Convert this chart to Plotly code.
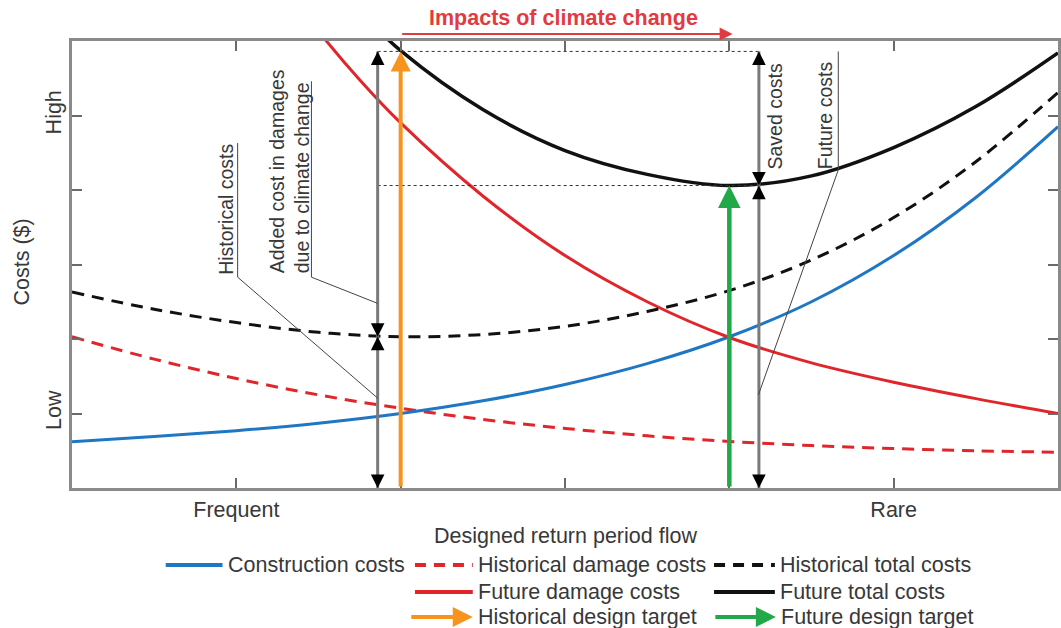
import plotly.graph_objects as go

# Design return period on an index scale (0 = most frequent, 6 = rarest)
period = [0, 0.5, 1, 1.5, 2, 2.5, 3, 3.5, 4, 4.5, 5, 5.5, 6]
construction = [0.62, 0.69, 0.77, 0.87, 1.00, 1.17, 1.39, 1.67, 2.03, 2.50, 3.12, 3.90, 4.85]
hist_damage = [2.03, 1.73, 1.47, 1.25, 1.07, 0.92, 0.80, 0.70, 0.625, 0.57, 0.53, 0.50, 0.48]
hist_total = [2.63, 2.40, 2.22, 2.09, 2.03, 2.06, 2.17, 2.37, 2.65, 3.06, 3.63, 4.38, 5.31]

period_future = [1.25, 1.5, 1.75, 2, 2.5, 3, 3.5, 4, 4.5, 5, 5.5, 6]
future_damage = [6.85, 6.13, 5.48, 4.90, 3.92, 3.12, 2.50, 2.02, 1.68, 1.42, 1.20, 1.00]
future_total = [7.70, 7.00, 6.40, 5.87, 5.08, 4.53, 4.21, 4.06, 4.19, 4.57, 5.12, 5.84]

x_ticks = [1, 2, 3, 4, 5]
x_tick_text = ["Frequent", "", "", "", "Rare"]
y_ticks = [1, 2, 3, 4, 5]
y_tick_text = ["Low", "", "", "", "High"]

# Design targets and the cost levels they reach
hist_design = 2.0
future_design = 4.0
hist_min_cost = 2.03       # historical total at historical design
hist_design_cost = 5.86    # future total at historical design
future_design_cost = 4.06  # future total at future design
bracket_hist = 1.86
bracket_future = 4.18

BLUE = "#1f77c4"
RED = "#e0262b"
ORANGE = "#f7941d"
GREEN = "#20a849"
BLACK = "#111111"
GRAY = "#7a7a7a"
TEXT = "#383838"
FONT = "Liberation Sans, Arial, sans-serif"
FS = 21.5          # axis / legend text size
FS_CALLOUT = 19.5  # rotated callout text size

fig = go.Figure()
fig.add_trace(go.Scatter(x=period, y=hist_damage, mode="lines",
                         line=dict(color=RED, width=3, dash="12px,8px", shape="spline")))
fig.add_trace(go.Scatter(x=period, y=construction, mode="lines",
                         line=dict(color=BLUE, width=3, shape="spline")))
fig.add_trace(go.Scatter(x=period_future, y=future_damage, mode="lines",
                         line=dict(color=RED, width=3, shape="spline")))
fig.add_trace(go.Scatter(x=period, y=hist_total, mode="lines",
                         line=dict(color=BLACK, width=3, dash="12px,8px", shape="spline")))
fig.add_trace(go.Scatter(x=period_future, y=future_total, mode="lines",
                         line=dict(color=BLACK, width=3.5, shape="spline")))

shapes = []
annotations = []

# dotted reference levels
for lvl in (hist_design_cost, future_design_cost):
    shapes.append(dict(type="line", xref="x", yref="y", x0=bracket_hist, x1=bracket_future,
                       y0=lvl, y1=lvl, line=dict(color="#333", width=1, dash="dot"), layer="above"))

# gray bracket shafts with black heads at both ends
for xb, segs in ((bracket_hist, [(0, hist_min_cost), (hist_min_cost, hist_design_cost)]),
                 (bracket_future, [(0, future_design_cost), (future_design_cost, hist_design_cost)])):
    for y0, y1 in segs:
        shapes.append(dict(type="line", xref="x", yref="y", x0=xb, x1=xb, y0=y0, y1=y1,
                           line=dict(color=GRAY, width=3), layer="above"))
        annotations.append(dict(x=xb, y=y1, xref="x", yref="y", ax=0, ay=14, text="",
                                showarrow=True, arrowhead=2, arrowsize=1.7, arrowwidth=1.6,
                                arrowcolor="black"))
        annotations.append(dict(x=xb, y=y0, xref="x", yref="y", ax=0, ay=-14, text="",
                                showarrow=True, arrowhead=2, arrowsize=1.7, arrowwidth=1.6,
                                arrowcolor="black"))

# design target arrows
annotations.append(dict(x=hist_design, y=hist_design_cost, xref="x", yref="y",
                        ax=hist_design, ay=0, axref="x", ayref="y", text="", showarrow=True,
                        arrowhead=2, arrowsize=1.0, arrowwidth=4, arrowcolor=ORANGE))
annotations.append(dict(x=future_design, y=future_design_cost, xref="x", yref="y",
                        ax=future_design, ay=0, axref="x", ayref="y", text="", showarrow=True,
                        arrowhead=2, arrowsize=1.0, arrowwidth=4.5, arrowcolor=GREEN))

# leader lines for callouts
leaders = [
    [(1.008, 4.63), (1.008, 2.83), (1.858, 1.21)],
    [(1.457, 5.46), (1.457, 2.83), (1.858, 2.48)],
    [(4.663, 5.86), (4.663, 4.27), (4.177, 1.25)],
]
for pts in leaders:
    path = "M {} {}".format(*pts[0]) + "".join(" L {} {}".format(*p) for p in pts[1:])
    shapes.append(dict(type="path", xref="x", yref="y", path=path,
                       line=dict(color="#444", width=1), layer="above"))

callouts = [
    (0.94, 3.74, "Historical costs"),
    (1.32, 4.25, "Added cost in damages<br>due to climate change"),
    (4.275, 4.98, "Saved costs"),
    (4.58, 5.0, "Future costs"),
]
for cx, cy, txt in callouts:
    annotations.append(dict(x=cx, y=cy, xref="x", yref="y", text=txt, showarrow=False,
                            textangle=-90, align="left",
                            font=dict(size=FS_CALLOUT, color=TEXT, family=FONT)))

# impacts arrow and heading
annotations.append(dict(x=4.02, y=1.0157, xref="x", yref="paper", ax=hist_design, ay=0,
                        axref="x", text="", showarrow=True, arrowhead=2, arrowsize=1.3,
                        arrowwidth=2, arrowcolor="#e23b3f"))
annotations.append(dict(x=2.99, y=1.0515, xref="x", yref="paper", yanchor="middle",
                        text="<b>Impacts of climate change</b>", showarrow=False,
                        font=dict(size=FS, color="#e23b3f", family=FONT)))

# axis titles
annotations.append(dict(x=0.5, y=-0.108, xref="paper", yref="paper", xanchor="center",
                        yanchor="middle", text="Designed return period flow", showarrow=False,
                        font=dict(size=FS, color=TEXT, family=FONT)))
annotations.append(dict(x=-0.0505, y=0.505, xref="paper", yref="paper", xanchor="center",
                        yanchor="middle", text="Costs ($)", showarrow=False, textangle=-90,
                        font=dict(size=FS, color=TEXT, family=FONT)))


# legend drawn below the axes (pixel layout converted to paper units)
def px_x(p):
    return (p - 72) / 989.0


def px_y(p):
    return (488 - p) / 447.0


legend_items = [
    (166, 223, 565, BLUE, "solid", "Construction costs"),
    (416, 474, 565, RED, "11px,8px", "Historical damage costs"),
    (716, 777, 565, BLACK, "11px,8px", "Historical total costs"),
    (416, 474, 592, RED, "solid", "Future damage costs"),
    (716, 777, 592, BLACK, "solid", "Future total costs"),
    (411, 474, 617, ORANGE, "arrow", "Historical design target"),
    (716, 778, 617, GREEN, "arrow", "Future design target"),
]
for x0, x1, yy, col, style, label in legend_items:
    if style == "arrow":
        annotations.append(dict(x=px_x(x1), y=px_y(yy), xref="paper", yref="paper",
                                ax=-(x1 - x0), ay=0, text="", showarrow=True, arrowhead=2,
                                arrowsize=1.0, arrowwidth=4, arrowcolor=col))
    else:
        shapes.append(dict(type="line", xref="paper", yref="paper", x0=px_x(x0), x1=px_x(x1),
                           y0=px_y(yy), y1=px_y(yy), line=dict(color=col, width=4, dash=style)))
    annotations.append(dict(x=px_x(x1 + 3), y=px_y(yy), xref="paper", yref="paper",
                            text=label, showarrow=False, xanchor="left", yanchor="middle",
                            font=dict(size=FS, color=TEXT, family=FONT)))

axis_common = dict(showgrid=False, zeroline=False, showline=True, linecolor="#8a8a8a",
                   linewidth=2.5, mirror="ticks", ticks="inside", ticklen=10, tickwidth=1.5,
                   tickcolor="#6a6a6a", tickfont=dict(size=FS, color=TEXT, family=FONT),
                   range=[0, 6], fixedrange=True)

fig.update_layout(
    width=1061, height=628,
    margin=dict(l=72, r=0, t=41, b=140),
    paper_bgcolor="white", plot_bgcolor="white",
    showlegend=False,
    shapes=shapes, annotations=annotations,
    xaxis=dict(tickvals=x_ticks, ticktext=x_tick_text, **axis_common),
    yaxis=dict(tickvals=y_ticks, ticktext=y_tick_text, tickangle=-90, **axis_common),
    font=dict(family=FONT, color=TEXT),
)

fig.write_html("out.html")
